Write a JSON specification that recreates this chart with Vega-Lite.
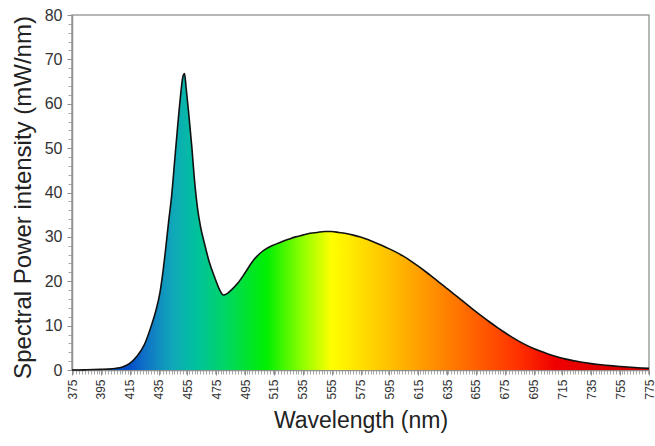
{
  "$schema": "https://vega.github.io/schema/vega-lite/v6.json",
  "width": 577,
  "height": 355,
  "autosize": {"type": "none"},
  "padding": {"left": 72, "top": 15, "right": 6, "bottom": 76},
  "background": "white",
  "config": {
    "view": {"stroke": "#a0a0a0", "strokeWidth": 1.5},
    "font": "Liberation Sans",
    "axis": {
      "labelFont": "Liberation Sans",
      "titleFont": "Liberation Sans",
      "labelColor": "#333333",
      "titleColor": "#222222",
      "titleFontWeight": "normal",
      "domainColor": "#909090",
      "domainWidth": 1.5,
      "tickColor": "#909090",
      "grid": false
    }
  },
  "data": {
    "values": [
      {"nm": 375, "p": 0.0}, {"nm": 380, "p": 0.0}, {"nm": 385, "p": 0.05}, {"nm": 390, "p": 0.1},
      {"nm": 395, "p": 0.15}, {"nm": 400, "p": 0.2}, {"nm": 405, "p": 0.35}, {"nm": 410, "p": 0.7},
      {"nm": 415, "p": 1.5}, {"nm": 420, "p": 3.1}, {"nm": 425, "p": 5.6}, {"nm": 430, "p": 10.0},
      {"nm": 433, "p": 13.2}, {"nm": 436, "p": 17.5}, {"nm": 438, "p": 22.0}, {"nm": 440, "p": 27.5},
      {"nm": 442, "p": 33.5}, {"nm": 444, "p": 39.0}, {"nm": 446, "p": 46.5}, {"nm": 448, "p": 54.0},
      {"nm": 450, "p": 61.0}, {"nm": 452, "p": 66.3}, {"nm": 453, "p": 66.8}, {"nm": 454, "p": 64.0},
      {"nm": 456, "p": 57.5}, {"nm": 458, "p": 50.5}, {"nm": 460, "p": 42.5}, {"nm": 462, "p": 36.5},
      {"nm": 464, "p": 32.5}, {"nm": 467, "p": 28.3}, {"nm": 470, "p": 24.5}, {"nm": 474, "p": 20.8},
      {"nm": 477, "p": 18.3}, {"nm": 480, "p": 16.9}, {"nm": 482, "p": 17.1}, {"nm": 485, "p": 17.9},
      {"nm": 490, "p": 19.6}, {"nm": 495, "p": 21.9}, {"nm": 500, "p": 24.4}, {"nm": 505, "p": 26.2},
      {"nm": 510, "p": 27.4}, {"nm": 515, "p": 28.2}, {"nm": 520, "p": 28.85}, {"nm": 525, "p": 29.45},
      {"nm": 530, "p": 30.0}, {"nm": 535, "p": 30.4}, {"nm": 540, "p": 30.8}, {"nm": 545, "p": 31.0},
      {"nm": 550, "p": 31.2}, {"nm": 555, "p": 31.2}, {"nm": 560, "p": 31.0}, {"nm": 565, "p": 30.75},
      {"nm": 570, "p": 30.4}, {"nm": 575, "p": 29.95}, {"nm": 580, "p": 29.4}, {"nm": 585, "p": 28.75},
      {"nm": 590, "p": 28.05}, {"nm": 595, "p": 27.3}, {"nm": 600, "p": 26.5}, {"nm": 605, "p": 25.6},
      {"nm": 610, "p": 24.55}, {"nm": 615, "p": 23.4}, {"nm": 620, "p": 22.2}, {"nm": 625, "p": 20.95},
      {"nm": 630, "p": 19.65}, {"nm": 635, "p": 18.35}, {"nm": 640, "p": 17.05}, {"nm": 645, "p": 15.75},
      {"nm": 650, "p": 14.45}, {"nm": 655, "p": 13.15}, {"nm": 660, "p": 11.9}, {"nm": 665, "p": 10.7},
      {"nm": 670, "p": 9.55}, {"nm": 675, "p": 8.45}, {"nm": 680, "p": 7.4}, {"nm": 685, "p": 6.45},
      {"nm": 690, "p": 5.6}, {"nm": 695, "p": 4.85}, {"nm": 700, "p": 4.2}, {"nm": 705, "p": 3.62},
      {"nm": 710, "p": 3.1}, {"nm": 715, "p": 2.66}, {"nm": 720, "p": 2.28}, {"nm": 725, "p": 1.96},
      {"nm": 730, "p": 1.68}, {"nm": 735, "p": 1.44}, {"nm": 740, "p": 1.24}, {"nm": 745, "p": 1.07},
      {"nm": 750, "p": 0.92}, {"nm": 755, "p": 0.79}, {"nm": 760, "p": 0.67}, {"nm": 765, "p": 0.56},
      {"nm": 770, "p": 0.46}, {"nm": 775, "p": 0.37}
    ]
  },
  "resolve": {"axis": {"x": "independent", "y": "independent"}},
  "layer": [
    {
      "mark": {
        "type": "area",
        "interpolate": "monotone",
        "color": {
          "gradient": "linear",
          "x1": 0, "y1": 0, "x2": 1, "y2": 0,
          "stops": [
            {"offset": 0.0, "color": "#0038b8"},
            {"offset": 0.1, "color": "#0050c8"},
            {"offset": 0.125, "color": "#1070c8"},
            {"offset": 0.175, "color": "#10a8b8"},
            {"offset": 0.2125, "color": "#00c0a0"},
            {"offset": 0.2625, "color": "#00d468"},
            {"offset": 0.3375, "color": "#00f000"},
            {"offset": 0.4, "color": "#90ff00"},
            {"offset": 0.45, "color": "#ffff00"},
            {"offset": 0.5375, "color": "#ffc800"},
            {"offset": 0.6125, "color": "#ff9800"},
            {"offset": 0.7, "color": "#ff6000"},
            {"offset": 0.775, "color": "#ff3000"},
            {"offset": 0.8375, "color": "#f00000"},
            {"offset": 1.0, "color": "#d00000"}
          ]
        }
      },
      "encoding": {
        "x": {
          "field": "nm", "type": "quantitative",
          "scale": {"domain": [375, 775], "nice": false, "zero": false},
          "axis": {
            "orient": "bottom",
            "title": "Wavelength (nm)",
            "titleFontSize": 23,
            "titlePadding": 10,
            "values": [375, 395, 415, 435, 455, 475, 495, 515, 535, 555, 575, 595, 615, 635, 655, 675, 695, 715, 735, 755, 775],
            "labelAngle": -90,
            "labelFontSize": 12,
            "labelPadding": 4,
            "tickSize": 5,
            "labelOverlap": false,
            "labelFlush": false
          }
        },
        "y": {
          "field": "p", "type": "quantitative",
          "scale": {"domain": [0, 80], "nice": false},
          "axis": {
            "orient": "left",
            "title": "Spectral Power intensity (mW/nm)",
            "titleFontSize": 24,
            "titlePadding": 9,
            "titleY": 182,
            "values": [0, 10, 20, 30, 40, 50, 60, 70, 80],
            "labelFontSize": 16,
            "labelPadding": 5,
            "tickSize": 5,
            "labelFlush": false
          }
        }
      }
    },
    {
      "mark": {"type": "line", "interpolate": "monotone", "color": "#111111", "strokeWidth": 1.6},
      "encoding": {
        "x": {
          "field": "nm", "type": "quantitative",
          "axis": {
            "orient": "bottom",
            "title": null,
            "labels": false,
            "domain": false,
            "tickCount": 200,
            "tickSize": 4,
            "tickWidth": 0.8
          }
        },
        "y": {
          "field": "p", "type": "quantitative",
          "axis": {
            "orient": "left",
            "title": null,
            "labels": false,
            "domain": false,
            "tickCount": 40,
            "tickSize": 4,
            "tickWidth": 0.8
          }
        }
      }
    }
  ]
}
